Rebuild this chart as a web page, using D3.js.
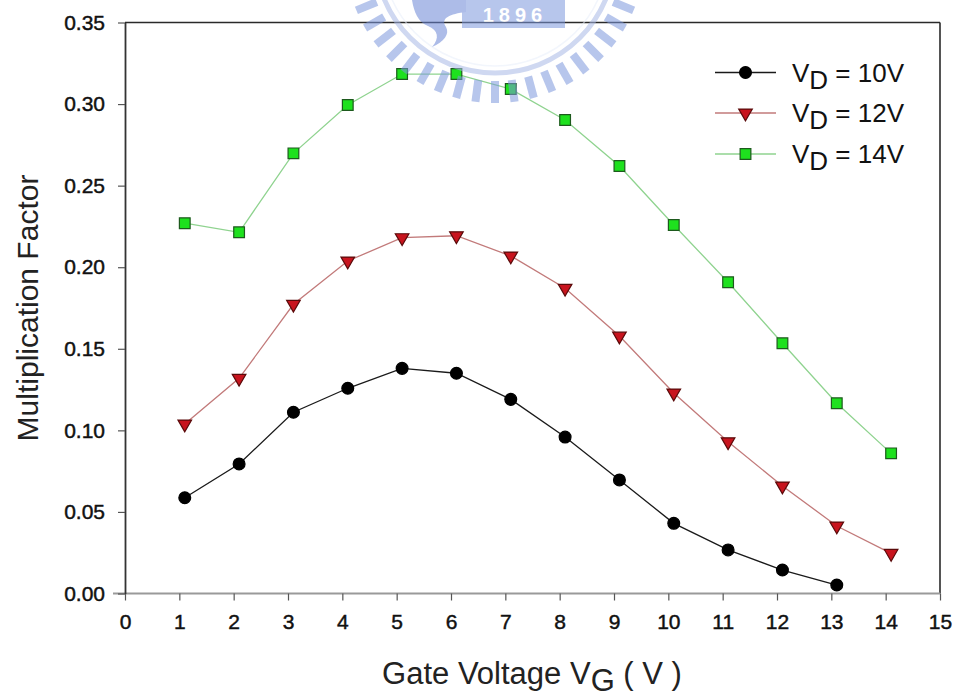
<!DOCTYPE html>
<html>
<head>
<meta charset="utf-8">
<script src="https://cdn.jsdelivr.net/npm/d3@7/dist/d3.min.js"></script>
<style>
  html, body { margin: 0; padding: 0; background: #fff; }
  svg { display: block; font-family: "Liberation Sans", Arial, Helvetica, sans-serif; }
</style>
</head>
<body>
<svg id="chart" width="956" height="697"></svg>
<script>
// Gate voltage sweep (V) and measured multiplication factor per drain bias
const gateV = [1.1, 2.1, 3.1, 4.1, 5.1, 6.1, 7.1, 8.1, 9.1, 10.1, 11.1, 12.1, 13.1, 14.1];

const vd10 = [0.0587, 0.0794, 0.1111, 0.1258, 0.1380, 0.1350, 0.1190, 0.0959, 0.0696, 0.0430, 0.0267, 0.0144, 0.0052];
const vd12 = [0.1039, 0.1319, 0.1773, 0.2038, 0.2181, 0.2193, 0.2069, 0.1871, 0.1578, 0.1229, 0.0930, 0.0659, 0.0414, 0.0246];
const vd14 = [0.2270, 0.2214, 0.2698, 0.2994, 0.3184, 0.3184, 0.3092, 0.2902, 0.2620, 0.2259, 0.1908, 0.1534, 0.1166, 0.0859];

const seriesNames = ["10V", "12V", "14V"];
const xTicks = d3.range(0, 16);
const yTicks = [0, 0.05, 0.10, 0.15, 0.20, 0.25, 0.30, 0.35];

const series = [
  { name: seriesNames[0], values: vd10, line: "#1a1a1a", lw: 1.3, symbol: d3.symbolCircle, size: 110, fill: "#000", stroke: "#000", rot: 0 },
  { name: seriesNames[1], values: vd12, line: "#c27a7a", lw: 1.3, symbol: d3.symbolTriangle, size: 80, fill: "#c8141e", stroke: "#5a0a0a", rot: 180 },
  { name: seriesNames[2], values: vd14, line: "#8fd38f", lw: 1.3, symbol: d3.symbolSquare, size: 115, fill: "#1ee11e", stroke: "#1d5a1d", rot: 0 }
];

const svg = d3.select("#chart");
const plotL = 125, plotR = 940, plotT = 22.5, plotB = 593.5;

const x = d3.scaleLinear().domain([0, 15]).range([plotL, plotR]);
const y = d3.scaleLinear().domain([0, 0.35]).range([plotB, plotT]);

// frame
svg.append("line").attr("x1", plotL).attr("x2", plotR).attr("y1", plotT).attr("y2", plotT)
  .attr("stroke", "#2a2a2a").attr("stroke-width", 1.6);
svg.append("line").attr("x1", plotR).attr("x2", plotR).attr("y1", plotT).attr("y2", plotB)
  .attr("stroke", "#2a2a2a").attr("stroke-width", 1.6);

// axes
const xAxis = svg.append("g").attr("transform", `translate(0,${plotB})`)
  .call(d3.axisBottom(x).tickValues(xTicks).tickFormat(d3.format("d")).tickSize(7).tickPadding(14).tickSizeOuter(0));
const yAxis = svg.append("g").attr("transform", `translate(${plotL},0)`)
  .call(d3.axisLeft(y).tickValues(yTicks).tickFormat(d3.format(".2f")).tickSize(7).tickPadding(13).tickSizeOuter(0));

xAxis.select(".domain").attr("stroke", "#9a9a9a").attr("stroke-width", 2.2).attr("d", `M${plotL - 12},0H${plotR}`);
yAxis.select(".domain").attr("stroke", "#333").attr("stroke-width", 1.8);
xAxis.selectAll(".tick line").attr("stroke", "#555").attr("stroke-width", 1.2);
yAxis.selectAll(".tick line").attr("stroke", "#555").attr("stroke-width", 1.2);
[xAxis, yAxis].forEach(g => g.selectAll("text")
  .attr("font-size", 21).attr("fill", "#111").attr("stroke", "#111").attr("stroke-width", 0.45)
  .attr("font-family", "Liberation Sans, Arial, sans-serif"));

// series lines and markers
const line = d3.line().x((d, i) => x(gateV[i])).y(d => y(d));
series.forEach(s => {
  svg.append("path").datum(s.values)
    .attr("d", line).attr("fill", "none")
    .attr("stroke", s.line).attr("stroke-width", s.lw);
  svg.append("g").selectAll("path").data(s.values).join("path")
    .attr("d", d3.symbol().type(s.symbol).size(s.size))
    .attr("transform", (d, i) => `translate(${x(gateV[i])},${y(d)}) rotate(${s.rot})`)
    .attr("fill", s.fill).attr("stroke", s.stroke).attr("stroke-width", 1.2);
});

// legend
const legend = svg.append("g");
const legendRows = [72.5, 113, 154];
series.forEach((s, i) => {
  const ly = legendRows[i];
  legend.append("line").attr("x1", 715).attr("x2", 776).attr("y1", ly).attr("y2", ly)
    .attr("stroke", s.line).attr("stroke-width", 1.5);
  legend.append("path")
    .attr("d", d3.symbol().type(s.symbol).size(s.size))
    .attr("transform", `translate(745.5,${ly}) rotate(${s.rot})`)
    .attr("fill", s.fill).attr("stroke", s.stroke).attr("stroke-width", 1.2);
  const t = legend.append("text").attr("x", 792).attr("y", ly + 9)
    .attr("font-size", 26).attr("fill", "#111");
  t.append("tspan").text("V");
  t.append("tspan").attr("dy", 7).text("D");
  t.append("tspan").attr("dy", -7).text(" = " + s.name);
});

// axis titles
const xt = svg.append("text").attr("x", 532).attr("y", 684).attr("text-anchor", "middle")
  .attr("font-size", 31).attr("fill", "#222");
xt.append("tspan").text("Gate Voltage V");
xt.append("tspan").attr("dy", 7).text("G");
xt.append("tspan").attr("dy", -7).text(" ( V )");

svg.append("text").attr("transform", "translate(38,308) rotate(-90)")
  .attr("text-anchor", "middle").attr("font-size", 30).attr("fill", "#222")
  .text("Multiplication Factor");

// university emblem watermark across the top edge
const wm = svg.append("g").attr("opacity", 0.55);
const cx = 495, cy = -47;
d3.range(0, 360, 7.5).forEach(a => {
  wm.append("rect")
    .attr("x", -4).attr("y", 128).attr("width", 8).attr("height", 22)
    .attr("transform", `translate(${cx},${cy}) rotate(${a})`)
    .attr("fill", "#7d97dc");
});
wm.append("circle").attr("cx", cx).attr("cy", cy).attr("r", 120)
  .attr("fill", "none").attr("stroke", "#a8b8e6").attr("stroke-width", 5);
wm.append("circle").attr("cx", cx).attr("cy", cy).attr("r", 113)
  .attr("fill", "none").attr("stroke", "#e8eefa").attr("stroke-width", 1.5);
wm.append("rect").attr("x", 462).attr("y", 0).attr("width", 103).attr("height", 28).attr("fill", "#7d97dc");
wm.append("path")
  .attr("d", "M412,0 L466,0 L466,12 C450,14 440,18 446,27 C450,34 444,42 432,47 C440,38 438,30 428,26 C418,22 414,12 412,0 Z")
  .attr("fill", "#6a86d6");
wm.append("text").attr("x", 515).attr("y", 22).attr("text-anchor", "middle")
  .attr("font-size", 20).attr("font-weight", "bold").attr("letter-spacing", 5)
  .attr("fill", "#fff").text("1896");
</script>
</body>
</html>
